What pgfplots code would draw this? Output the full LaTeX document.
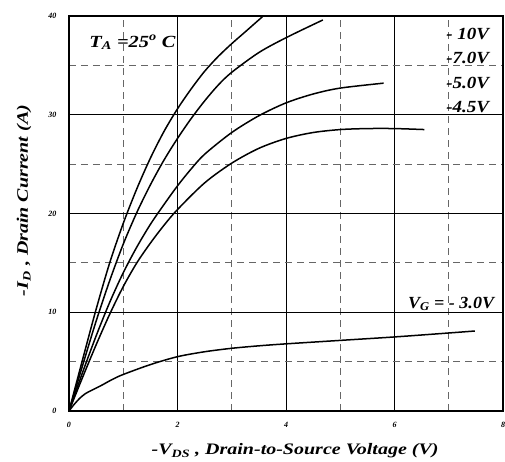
\documentclass[border=0pt]{standalone}
\usepackage{fontspec}
\setmainfont{Liberation Serif}
\usepackage{graphicx}
\usepackage{pgfplots}
\pgfplotsset{compat=1.18}
\newcommand{\wide}[2]{\scalebox{#1}[1]{#2}}
\begin{document}
\begin{tikzpicture}[x=1pt,y=1pt]
\useasboundingbox (-69,-51) rectangle (436,411);
\begin{axis}[
  at={(0,0)}, anchor=south west,
  scale only axis, width=434pt, height=395pt,
  xmin=0, xmax=8, ymin=0, ymax=40,
  xtick={0,2,4,6,8}, ytick={0,10,20,30,40},
  minor tick num=1,
  major tick length=0pt, minor tick length=0pt,
  grid=both,
  major grid style={black, line width=0.8pt},
  minor grid style={gray!80!black, line width=0.8pt, dash pattern=on 7pt off 5pt},
  axis line style={line width=2pt},
  /pgf/number format/assume math mode=true,
  ticklabel style={font=\fontsize{8}{9}\selectfont\bfseries\itshape},
  xticklabel style={yshift=-8pt},
  yticklabel style={xshift=-9pt},
  xlabel={\wide{1.25}{\bfseries\itshape -V\textsubscript{DS} , Drain-to-Source Voltage (V)}},
  ylabel={\wide{1.25}{\bfseries\itshape -I\textsubscript{D} , Drain Current (A)}},
  label style={font=\fontsize{16}{18}\selectfont},
  xlabel style={at={(axis description cs:0.521,-0.111)}, anchor=base},
  ylabel style={at={(axis description cs:-0.0945,0.533)}, anchor=base},
  clip=true,
]
% -10V
\addplot[black, line width=1.5pt, smooth] coordinates {
(0,0) (0.25,5.2) (0.5,10.3) (0.75,15.0) (1,19.0) (1.25,22.5) (1.5,25.6) (1.75,28.3) (2,30.6) (2.25,32.6) (2.5,34.4) (2.75,35.9) (3,37.2) (3.25,38.4) (3.58,40)};
% -7V
\addplot[black, line width=1.5pt, smooth] coordinates {
(0,0) (0.25,4.6) (0.5,9.1) (0.75,13.2) (1,16.9) (1.25,20.1) (1.5,22.9) (1.75,25.4) (2,27.6) (2.25,29.6) (2.5,31.4) (2.75,33.0) (3,34.3) (3.5,36.3) (4,37.8) (4.68,39.6)};
% -5V
\addplot[black, line width=1.5pt, smooth] coordinates {
(0,0) (0.25,3.9) (0.5,7.6) (0.75,11.0) (1,14.0) (1.25,16.6) (1.5,18.9) (1.75,20.9) (2,22.8) (2.25,24.5) (2.5,26.0) (3,28.2) (3.5,29.9) (4,31.2) (4.5,32.1) (5,32.7) (5.8,33.2)};
% -4.5V
\addplot[black, line width=1.5pt, smooth] coordinates {
(0,0) (0.25,3.4) (0.5,6.7) (0.75,9.8) (1,12.6) (1.25,15.0) (1.5,17.0) (1.75,18.8) (2,20.4) (2.5,23.1) (3,25.1) (3.5,26.6) (4,27.6) (4.5,28.2) (5,28.5) (5.5,28.6) (6,28.6) (6.55,28.5)};
% -3V
\addplot[black, line width=1.5pt, smooth] coordinates {
(0,0) (0.1,0.7) (0.2,1.3) (0.3,1.75) (0.4,2.05) (0.6,2.6) (0.8,3.2) (1,3.7) (1.5,4.7) (2,5.5) (2.5,6.0) (3,6.35) (3.5,6.6) (4,6.8) (5,7.15) (6,7.5) (7,7.9) (7.48,8.1)};
\node[anchor=base west, font=\fontsize{17}{19}\selectfont\bfseries\itshape] at (axis cs:0.31,36.86) {\wide{1.2}{T\textsubscript{A} =25\textsuperscript{o} C}};
\node[anchor=base east, font=\fontsize{17}{19}\selectfont\bfseries\itshape] at (axis cs:7.81,37.57) {\wide{1.12}{- 10V}};
\node[anchor=base east, font=\fontsize{17}{19}\selectfont\bfseries\itshape] at (axis cs:7.81,35.2) {\wide{1.12}{-7.0V}};
\node[anchor=base east, font=\fontsize{17}{19}\selectfont\bfseries\itshape] at (axis cs:7.81,32.7) {\wide{1.12}{-5.0V}};
\node[anchor=base east, font=\fontsize{17}{19}\selectfont\bfseries\itshape] at (axis cs:7.81,30.2) {\wide{1.12}{-4.5V}};
\node[anchor=base east, font=\fontsize{17}{19}\selectfont\bfseries\itshape] at (axis cs:7.90,10.43) {\wide{1.06}{V\textsubscript{G} = - 3.0V}};
\end{axis}
\end{tikzpicture}
\end{document}
